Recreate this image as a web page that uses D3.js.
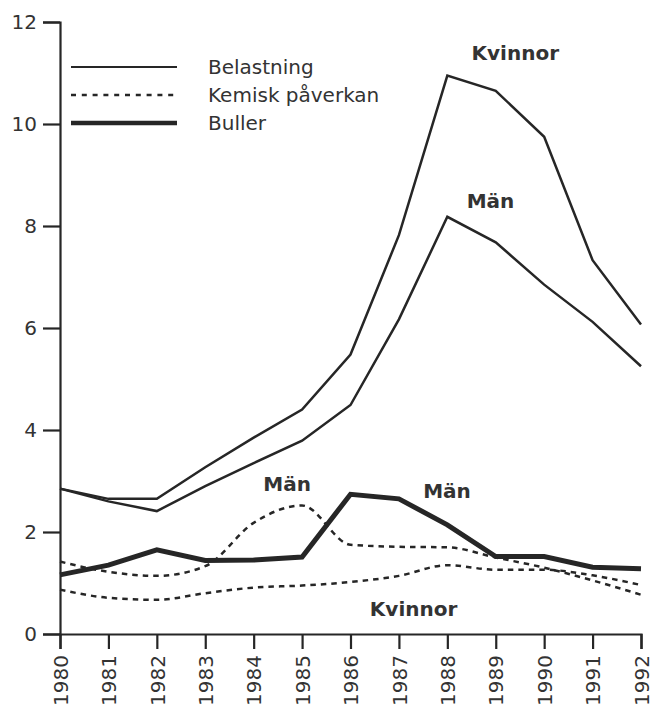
<!DOCTYPE html>
<html>
<head>
<meta charset="utf-8">
<script src="https://cdn.jsdelivr.net/npm/d3@7"></script>
<style>
  body { margin: 0; background: #fff; }
  text { font-family: 'DejaVu Sans', sans-serif; fill: #333; }
</style>
</head>
<body>
<div id="chart"></div>
<script>
// years on the x axis
const years = [1980, 1981, 1982, 1983, 1984, 1985, 1986, 1987, 1988, 1989, 1990, 1991, 1992];
const yTicks = [0, 2, 4, 6, 8, 10, 12];

// Belastning (thin solid)
const belastningKvinnor = [2.85, 2.65, 2.65, 3.27, 3.85, 4.4, 5.48, 7.82, 10.95, 10.65, 9.75, 7.33, 6.07];
const belastningMan = [2.85, 2.6, 2.41, 2.9, 3.35, 3.79, 4.49, 6.17, 8.18, 7.68, 6.85, 6.12, 5.25];
// Kemisk påverkan (dashed)
const kemiskMan = [1.42, 1.22, 1.14, 1.33, 2.18, 2.52, 1.75, 1.71, 1.7, 1.5, 1.3, 1.05, 0.77];
const kemiskKvinnor = [0.87, 0.71, 0.67, 0.8, 0.91, 0.95, 1.02, 1.14, 1.35, 1.26, 1.26, 1.15, 0.96];
// Buller (thick solid)
const bullerMan = [1.16, 1.35, 1.65, 1.44, 1.45, 1.51, 2.74, 2.65, 2.14, 1.52, 1.52, 1.31, 1.28];

const legendItems = ['Belastning', 'Kemisk påverkan', 'Buller'];

const width = 654;
const height = 706;
const ink = '#262626';

const svg = d3.select('#chart')
  .append('svg')
  .attr('width', width)
  .attr('height', height);

const x = d3.scaleLinear().domain([1980, 1992]).range([60, 641]);
const y = d3.scaleLinear().domain([0, 12]).range([634, 22]);

// axes
const yAxis = svg.append('g')
  .attr('transform', `translate(${x(1980)},0)`)
  .call(d3.axisLeft(y).tickValues(yTicks).tickSize(17).tickPadding(6).tickFormat(d3.format('d')));

const xAxis = svg.append('g')
  .attr('transform', `translate(0,${y(0)})`)
  .call(d3.axisBottom(x).tickValues(years).tickSize(15).tickFormat(d3.format('d')));

[yAxis, xAxis].forEach(g => {
  g.select('.domain').attr('stroke', ink).attr('stroke-width', 2.2);
  g.selectAll('.tick line').attr('stroke', ink).attr('stroke-width', 2.2);
  g.selectAll('.tick text')
    .attr('fill', '#333')
    .style('font-family', "'DejaVu Sans', sans-serif")
    .style('font-size', '20px');
});

xAxis.selectAll('.tick text')
  .attr('text-anchor', 'end')
  .attr('transform', 'translate(0,21) rotate(-90)')
  .attr('x', 0)
  .attr('y', 0)
  .attr('dy', '0.36em');

// series
const straight = d3.line()
  .x((d, i) => x(years[i]))
  .y(d => y(d));

const smooth = d3.line()
  .x((d, i) => x(years[i]))
  .y(d => y(d))
  .curve(d3.curveMonotoneX);

const series = [
  { values: kemiskKvinnor, gen: smooth, w: 2.5, dash: '5.5,5' },
  { values: kemiskMan, gen: smooth, w: 2.5, dash: '5.5,5' },
  { values: belastningMan, gen: straight, w: 2.5, dash: null },
  { values: belastningKvinnor, gen: straight, w: 2.5, dash: null },
  { values: bullerMan, gen: straight, w: 5, dash: null }
];

svg.append('g')
  .selectAll('path')
  .data(series)
  .enter()
  .append('path')
  .attr('d', d => d.gen(d.values))
  .attr('fill', 'none')
  .attr('stroke', ink)
  .attr('stroke-width', d => d.w)
  .attr('stroke-dasharray', d => d.dash)
  .attr('stroke-linejoin', 'miter');

// legend
const legendStyles = [
  { w: 2.2, dash: null, len: 106 },
  { w: 2.5, dash: '5,5.8', len: 103 },
  { w: 4.5, dash: null, len: 106 }
];

const legend = svg.append('g')
  .selectAll('g')
  .data(legendItems)
  .enter()
  .append('g')
  .attr('transform', (d, i) => `translate(71,${67 + i * 28})`);

legend.append('line')
  .attr('x1', 0)
  .attr('x2', (d, i) => legendStyles[i].len)
  .attr('stroke', ink)
  .attr('stroke-width', (d, i) => legendStyles[i].w)
  .attr('stroke-dasharray', (d, i) => legendStyles[i].dash);

legend.append('text')
  .attr('x', 137)
  .attr('dy', '0.36em')
  .style('font-size', '20px')
  .text(d => d);

// annotations
const labels = [
  { text: 'Kvinnor', year: 1988.5, value: 11.25 },
  { text: 'Män', year: 1988.4, value: 8.35 },
  { text: 'Män', year: 1984.2, value: 2.8 },
  { text: 'Män', year: 1987.5, value: 2.66 },
  { text: 'Kvinnor', year: 1986.4, value: 0.36 }
];

svg.append('g')
  .selectAll('text')
  .data(labels)
  .enter()
  .append('text')
  .attr('x', d => x(d.year))
  .attr('y', d => y(d.value))
  .style('font-size', '20px')
  .style('font-weight', 'bold')
  .text(d => d.text);
</script>
</body>
</html>
